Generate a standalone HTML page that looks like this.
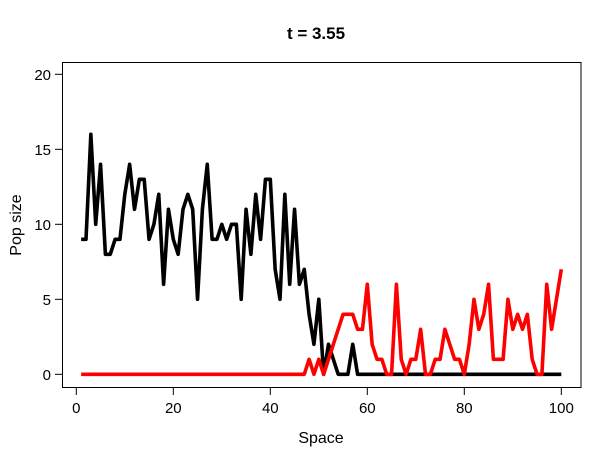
<!DOCTYPE html>
<html><head><meta charset="utf-8"><style>
body{margin:0;background:#fff;}
svg text{font-family:"Liberation Sans",Arial,sans-serif;}
</style></head><body>
<svg id="chart" width="600" height="450" viewBox="0 0 600 450" xmlns="http://www.w3.org/2000/svg">
<rect width="600" height="450" fill="#fff"/>
<text x="316" y="39" text-anchor="middle" font-size="17" font-weight="bold">t = 3.55</text>
<rect x="62.5" y="62.5" width="518.5" height="325" fill="none" stroke="#000" stroke-width="1"/>
<g id="xaxis"></g>
<g id="yaxis"></g>
<g id="series"></g>
<text x="321" y="443" text-anchor="middle" font-size="16">Space</text>
<text transform="translate(21,225) rotate(-90)" text-anchor="middle" font-size="16">Pop size</text>
</svg>
<script>
const xTicks = [0, 20, 40, 60, 80, 100];
const yTicks = [0, 5, 10, 15, 20];
const blackPop = [9,9,16,10,14,8,8,9,9,12,14,11,13,13,9,10,12,6,11,9,8,11,12,11,5,11,14,9,9,10,9,10,10,5,11,8,12,9,13,13,7,5,12,6,11,6,7,4,2,5,0,2,1,0,0,0,2,0,0,0,0,0,0,0,0,0,0,0,0,0,0,0,0,0,0,0,0,0,0,0,0,0,0,0,0,0,0,0,0,0,0,0,0,0,0,0,0,0,0,0];
const redPop = [0,0,0,0,0,0,0,0,0,0,0,0,0,0,0,0,0,0,0,0,0,0,0,0,0,0,0,0,0,0,0,0,0,0,0,0,0,0,0,0,0,0,0,0,0,0,0,1,0,1,0,1,2,3,4,4,4,3,3,6,2,1,1,0,0,6,1,0,1,1,3,0,0,1,1,3,2,1,1,0,2,5,3,4,6,1,1,1,5,3,4,3,4,1,0,0,6,3,5,7];
const NS = "http://www.w3.org/2000/svg";
function xs(v){ return 76.3 + v * 4.85; }
function ys(v){ return 374.3 - v * 15; }
const xa = document.getElementById('xaxis');
const ya = document.getElementById('yaxis');
const sg = document.getElementById('series');
function mk(tag, attrs, parent){ const e = document.createElementNS(NS, tag); for (const k in attrs) e.setAttribute(k, attrs[k]); parent.appendChild(e); return e; }
mk('line', {x1: xs(xTicks[0]), x2: xs(xTicks[xTicks.length-1]), y1: 387.5, y2: 387.5, stroke: '#000'}, xa);
xTicks.forEach(t => {
  const l = mk('line', {x1: xs(t), x2: xs(t), y1: 387.5, y2: 395, stroke: '#000'}, xa);
  
  
  const tx = mk('text', {x: xs(t), y: 413, 'text-anchor': 'middle', 'font-size': '15'}, xa);
  tx.textContent = t;
  
  
});
mk('line', {x1: 62.5, x2: 62.5, y1: ys(yTicks[0]), y2: ys(yTicks[yTicks.length-1]), stroke: '#000'}, ya);
yTicks.forEach(t => {
  const l = mk('line', {x1: 55, x2: 62.5, y1: ys(t), y2: ys(t), stroke: '#000'}, ya);
  
  
  const tx = mk('text', {x: 51, y: ys(t) + 5.5, 'text-anchor': 'end', 'font-size': '15'}, ya);
  tx.textContent = t;
  
  
});
function line(data, color, name){
  const pts = data.map((v, i) => xs(i + 1).toFixed(2) + ',' + ys(v).toFixed(2)).join(' ');
  const p = mk('polyline', {points: pts, fill: 'none', stroke: color, 'stroke-width': 3.6, 'stroke-linejoin': 'round', 'stroke-linecap': 'butt'}, sg);
  
  
}
line(blackPop, '#000', 'black-population-line');
line(redPop, '#ff0000', 'red-population-line');
</script>
</body></html>
